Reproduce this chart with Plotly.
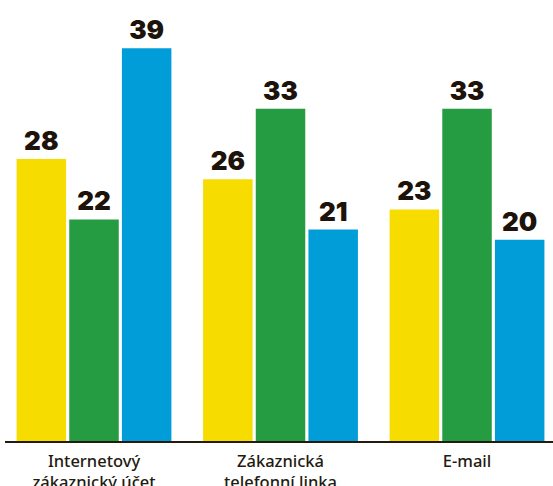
import plotly.graph_objects as go

categories = ["Internetový<br>zákaznický účet", "Zákaznická<br>telefonní linka", "E-mail"]
series_names = ["Řada 1", "Řada 2", "Řada 3"]
values_yellow = [28, 26, 23]
values_green = [22, 33, 33]
values_blue = [39, 21, 20]
colors = ["#F7DC00", "#259B42", "#009DD8"]

fig = go.Figure()
for name, vals, col in zip(series_names, [values_yellow, values_green, values_blue], colors):
    fig.add_trace(go.Bar(
        x=categories, y=vals, name=name,
        marker=dict(color=col, line=dict(width=0)),
        text=[str(v) for v in vals],
        textposition="outside",
        cliponaxis=False,
        textfont=dict(family="Inter", size=26, color="#1e130b", weight=900),
    ))

fig.update_layout(
    width=553, height=486,
    margin=dict(l=5, r=0, t=0, b=45, autoexpand=False),
    paper_bgcolor="white", plot_bgcolor="white",
    barmode="group", bargap=0.153, bargroupgap=0.06,
    showlegend=False,
    xaxis=dict(
        type="category", range=[-0.4772, 2.461],
        showline=True, linecolor="#231a10", linewidth=1.5,
        showgrid=False, ticks="", zeroline=False,
        automargin=False,
        ticklabelstandoff=4,
        tickfont=dict(family="Noto Sans", size=16.5, color="#231a10", weight=500),
    ),
    yaxis=dict(range=[0, 43.8], visible=False, showgrid=False, zeroline=False,
               automargin=False),
)

fig.write_html("out.html")
